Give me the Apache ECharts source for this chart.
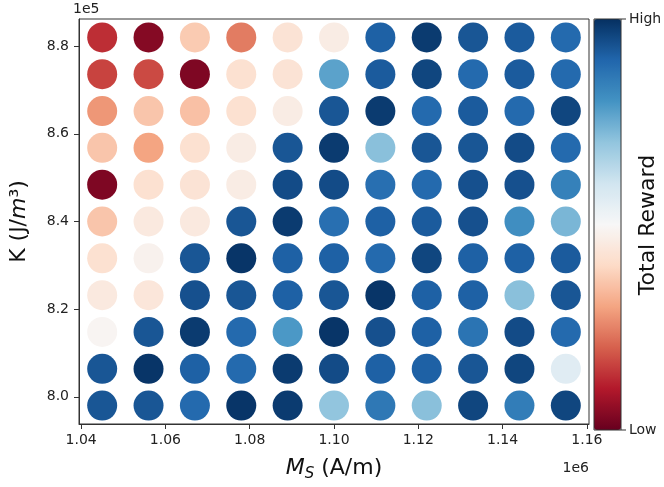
<!DOCTYPE html>
<html>
<head>
<meta charset="utf-8">
<script src="https://cdn.jsdelivr.net/npm/echarts@6/dist/echarts.min.js"></script>
<style>
  html, body { margin: 0; padding: 0; background: #fff; }
  #main { width: 664px; height: 487px; }
</style>
</head>
<body>
<div id="main"></div>
<script>
// 横轴 Ms (A/m)，纵轴 K (J/m^3)
var msValues = [1045000, 1056000, 1067000, 1078000, 1089000, 1100000, 1111000, 1122000, 1133000, 1144000, 1155000];
var kValues = [882000, 873600, 865200, 856800, 848400, 840000, 831600, 823200, 814800, 806400, 798000];

// 每行对应 kValues 的一个值（从上到下），0 = Low, 1 = High
var reward = [
    [0.13, 0.04, 0.37, 0.24, 0.43, 0.46, 0.91, 0.98, 0.93, 0.92, 0.89],
    [0.16, 0.17, 0.03, 0.42, 0.43, 0.77, 0.92, 0.96, 0.89, 0.92, 0.89],
    [0.28, 0.36, 0.35, 0.42, 0.46, 0.93, 0.98, 0.89, 0.92, 0.89, 0.96],
    [0.36, 0.30, 0.42, 0.46, 0.93, 0.98, 0.71, 0.93, 0.93, 0.95, 0.89],
    [0.03, 0.42, 0.43, 0.46, 0.95, 0.95, 0.88, 0.89, 0.94, 0.94, 0.84],
    [0.36, 0.45, 0.45, 0.93, 0.98, 0.88, 0.91, 0.92, 0.94, 0.81, 0.73],
    [0.42, 0.48, 0.93, 0.99, 0.91, 0.91, 0.89, 0.96, 0.91, 0.91, 0.92],
    [0.45, 0.44, 0.94, 0.93, 0.91, 0.93, 0.99, 0.91, 0.91, 0.71, 0.93],
    [0.49, 0.93, 0.98, 0.89, 0.79, 0.99, 0.94, 0.91, 0.87, 0.95, 0.89],
    [0.93, 0.99, 0.91, 0.89, 0.98, 0.95, 0.91, 0.91, 0.93, 0.96, 0.56],
    [0.93, 0.93, 0.89, 0.99, 0.98, 0.70, 0.86, 0.71, 0.96, 0.85, 0.96]
];

var xTicks = [1040000, 1060000, 1080000, 1100000, 1120000, 1140000, 1160000];
var yTicks = [800000, 820000, 840000, 860000, 880000];

// RdBu
var rdbu = ['#67001f', '#b2182b', '#d6604d', '#f4a582', '#fddbc7', '#f7f7f7',
            '#d1e5f0', '#92c5de', '#4393c3', '#2166ac', '#053061'];

var points = [];
for (var i = 0; i < kValues.length; i++) {
    for (var j = 0; j < msValues.length; j++) {
        points.push([msValues[j], kValues[i], reward[i][j]]);
    }
}

var font = 'DejaVu Sans';
var myChart = echarts.init(document.getElementById('main'), null, { renderer: 'canvas' });

var option = {
    animation: false,
    textStyle: { fontFamily: font },
    grid: {
        left: 73, right: 75, top: 19, bottom: 57,
        show: true, borderColor: '#333', borderWidth: 1
    },
    xAxis: {
        type: 'value',
        min: 1039500,
        max: 1160500,
        splitLine: { show: false },
        axisLine: { show: true, lineStyle: { color: '#333' } },
        axisTick: { show: true, length: 5, customValues: xTicks, lineStyle: { color: '#333' } },
        axisLabel: {
            customValues: xTicks,
            fontSize: 14, color: '#222', margin: 9, fontFamily: font,
            formatter: function (v) { return (v / 1e6).toFixed(2); }
        },
        name: '{i|M}{s|S}{n| (A/m)}',
        nameLocation: 'middle',
        nameGap: 31,
        nameTextStyle: {
            rich: {
                i: { fontSize: 22, fontStyle: 'italic', fontFamily: font, color: '#111' },
                s: { fontSize: 15, fontStyle: 'italic', fontFamily: font, color: '#111', padding: [12, 0, 0, 0] },
                n: { fontSize: 22, fontFamily: font, color: '#111' }
            }
        }
    },
    yAxis: {
        type: 'value',
        min: 793800,
        max: 886200,
        splitLine: { show: false },
        axisLine: { show: true, lineStyle: { color: '#333' } },
        axisTick: { show: true, length: 5, customValues: yTicks, lineStyle: { color: '#333' } },
        axisLabel: {
            customValues: yTicks,
            fontSize: 14, color: '#222', margin: 10, fontFamily: font,
            formatter: function (v) { return (v / 1e5).toFixed(1); }
        },
        name: '{n|K (J/}{i|m}{n|³)}',
        nameLocation: 'middle',
        nameRotate: 90,
        nameGap: 49,
        nameTextStyle: {
            rich: {
                i: { fontSize: 22, fontStyle: 'italic', fontFamily: font, color: '#111' },
                n: { fontSize: 22, fontFamily: font, color: '#111' }
            }
        }
    },
    visualMap: {
        type: 'continuous',
        min: 0,
        max: 1,
        dimension: 2,
        calculable: false,
        hoverLink: false,
        orient: 'vertical',
        left: 594,
        top: 19,
        padding: 0,
        itemWidth: 27,
        itemHeight: 411,
        text: null,
        showLabel: false,
        inRange: { color: rdbu }
    },
    graphic: [
        { type: 'rect', shape: { x: 594, y: 19, width: 27, height: 411 },
          style: { fill: null, stroke: '#333', lineWidth: 1 }, z: 100 },
        { type: 'line', shape: { x1: 621, y1: 19, x2: 626, y2: 19 }, style: { stroke: '#333', lineWidth: 1 }, z: 100 },
        { type: 'line', shape: { x1: 621, y1: 430, x2: 626, y2: 430 }, style: { stroke: '#333', lineWidth: 1 }, z: 100 },
        { type: 'text', x: 629, y: 19, style: { text: 'High', font: '14px "DejaVu Sans"', fill: '#222', textVerticalAlign: 'middle' }, z: 100 },
        { type: 'text', x: 629, y: 430, style: { text: 'Low', font: '14px "DejaVu Sans"', fill: '#222', textVerticalAlign: 'middle' }, z: 100 },
        { type: 'text', x: 648, y: 225, rotation: Math.PI / 2,
          style: { text: 'Total Reward', font: '22px "DejaVu Sans"', fill: '#111', textAlign: 'center', textVerticalAlign: 'middle' }, z: 100 },
        { type: 'text', x: 73, y: 9, style: { text: '1e5', font: '14px "DejaVu Sans"', fill: '#222', textVerticalAlign: 'middle' } },
        { type: 'text', x: 589, y: 468, style: { text: '1e6', font: '14px "DejaVu Sans"', fill: '#222', textAlign: 'right', textVerticalAlign: 'middle' } }
    ],
    series: [{
        type: 'scatter',
        symbol: 'circle',
        symbolSize: 30,
        data: points,
        itemStyle: { opacity: 1 }
    }]
};

myChart.setOption(option);
</script>
</body>
</html>
